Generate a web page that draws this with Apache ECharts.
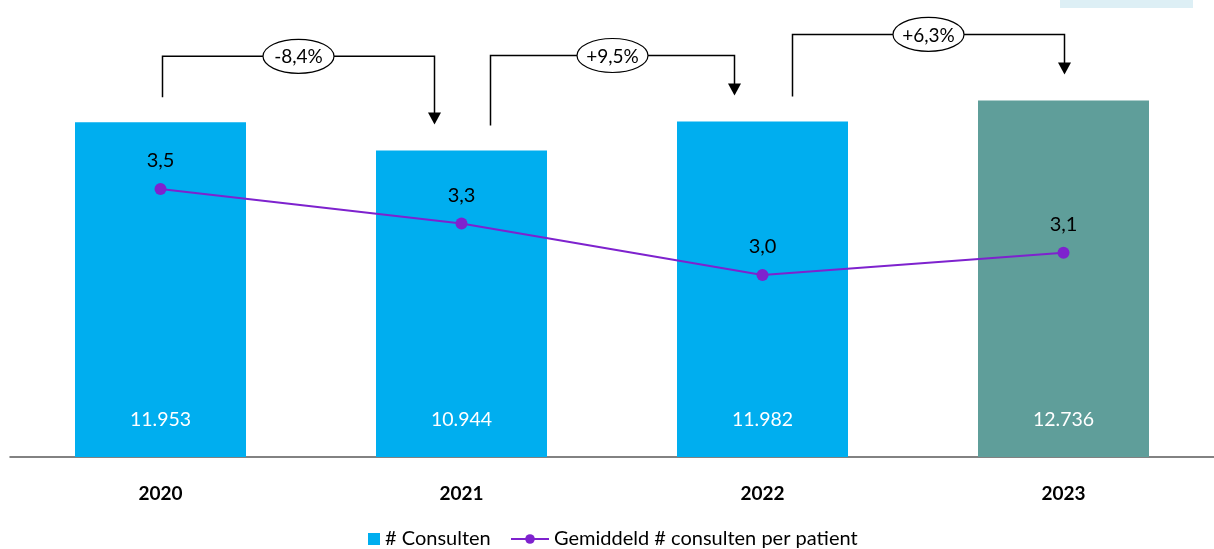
<!DOCTYPE html>
<html>
<head>
<meta charset="utf-8">
<script src="https://cdn.jsdelivr.net/npm/echarts@6/dist/echarts.min.js"></script>
<style>html,body{margin:0;padding:0;background:#fff;}#c{width:1214px;height:549px;}</style>
</head>
<body>
<div id="c"></div>
<script>
const years = ['2020', '2021', '2022', '2023'];
const consulten = [11953, 10944, 11982, 12736];
const gemiddeld = [3.5, 3.3, 3.0, 3.13];
const seriesNames = ['# Consulten', 'Gemiddeld # consulten per patient'];

const FONT = 'Lato, "Open Sans", sans-serif';
const barColors = ['#00AEEF', '#00AEEF', '#00AEEF', '#5F9E9A'];
const fmtNL = v => Math.round(v).toString().replace(/\B(?=(\d{3})+(?!\d))/g, '.');
const pct = i => {
  const p = (consulten[i + 1] - consulten[i]) / consulten[i] * 100;
  return (p >= 0 ? '+' : '-') + Math.abs(p).toFixed(1).replace('.', ',') + '%';
};
// layout offsets for bracket ends (px)
const bracketOffsets = [[2, -27], [29, -28], [30, 1]];

const chart = echarts.init(document.getElementById('c'), null, {renderer: 'canvas'});
const legendText = {fontFamily: FONT, fontSize: 20, color: '#000'};
chart.setOption({
  animation: false,
  graphic: [{type: 'rect', shape: {x: 1060, y: 0, width: 133, height: 8}, style: {fill: '#DDEFF5'}}],
  grid: {left: 10, width: 1206, top: 37, bottom: 92},
  legend: [
    {
      bottom: 0, left: 368, padding: 0, itemWidth: 12, itemHeight: 12,
      textStyle: legendText,
      data: [{name: seriesNames[0], icon: 'rect', itemStyle: {color: '#00AEEF'}}]
    },
    {
      bottom: 0, left: 510, padding: 0, itemWidth: 38, itemHeight: 12,
      textStyle: legendText,
      data: [{name: seriesNames[1]}]
    }
  ],
  xAxis: {
    type: 'category', data: years,
    axisLine: {lineStyle: {color: '#595959', width: 1.5}},
    axisTick: {show: false},
    axisLabel: {fontFamily: FONT, fontSize: 19, fontWeight: 'bold', color: '#000', margin: 27}
  },
  yAxis: [
    {type: 'value', min: 0, max: 15000, show: false, splitLine: {show: false}},
    {type: 'value', min: 1.942, max: 4.384, show: false, splitLine: {show: false}}
  ],
  series: [
    {
      name: seriesNames[0], type: 'bar', barWidth: 171,
      data: consulten.map((v, i) => ({value: v, itemStyle: {color: barColors[i]}})),
      label: {show: true, position: 'insideBottom', distance: 27, color: '#fff',
        fontFamily: FONT, fontSize: 19.5, formatter: p => fmtNL(p.value)}
    },
    {
      name: seriesNames[1], type: 'line', yAxisIndex: 1, data: gemiddeld,
      symbol: 'circle', symbolSize: 12,
      lineStyle: {color: '#7E22CE', width: 2}, itemStyle: {color: '#7E22CE'},
      label: {show: true, position: 'top', distance: 12, color: '#000',
        fontFamily: FONT, fontSize: 20, formatter: p => p.value.toFixed(1).replace('.', ',')},
      z: 5
    },
    {
      type: 'custom', data: [0, 1, 2], z: 6, silent: true,
      renderItem: (params, api) => {
        const i = api.value(0);
        const a = api.coord([i, consulten[i]]);
        const b = api.coord([i + 1, consulten[i + 1]]);
        const off = bracketOffsets[i];
        const x1 = a[0] + off[0], x2 = b[0] + off[1];
        const y1 = a[1] - 25, y2 = b[1] - 26;
        const yh = Math.min(a[1], b[1]) - 66;
        const xm = (x1 + x2) / 2;
        return {
          type: 'group', children: [
            {type: 'polyline', shape: {points: [[x1, y1], [x1, yh], [x2, yh], [x2, y2 - 11]]},
              style: {stroke: '#000', lineWidth: 1.5, fill: null}},
            {type: 'polygon', shape: {points: [[x2 - 6.5, y2 - 12], [x2 + 6.5, y2 - 12], [x2, y2]]},
              style: {fill: '#000'}},
            {type: 'ellipse', shape: {cx: xm, cy: yh, rx: 35.5, ry: 17},
              style: {fill: '#fff', stroke: '#000', lineWidth: 1.2}},
            {type: 'text', style: {x: xm, y: yh + 1, text: pct(i), align: 'center', verticalAlign: 'middle',
              fontFamily: FONT, fontSize: 19, fill: '#000'}}
          ]
        };
      }
    }
  ]
});
</script>
</body>
</html>
